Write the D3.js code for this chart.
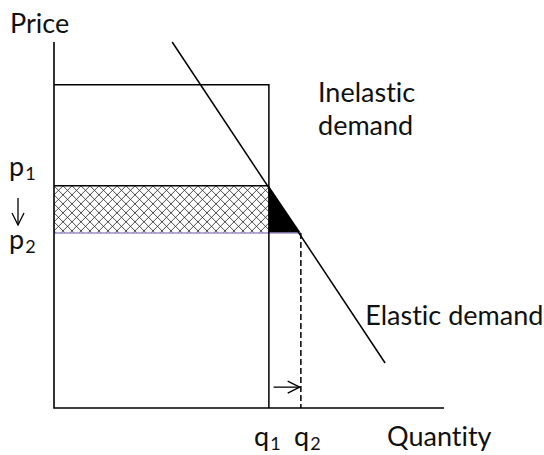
<!DOCTYPE html>
<html>
<head>
<meta charset="utf-8">
<script src="https://cdn.jsdelivr.net/npm/d3@7"></script>
<style>
  body { margin: 0; background: #fff; }
  text { font-family: Lato, "Open Sans", sans-serif; fill: #111; font-variant-ligatures: none; font-feature-settings: "liga" 0, "clig" 0; }
</style>
</head>
<body>
<svg id="chart" width="544" height="455"></svg>
<script>
// ---- data (quantity / price units) ----
const priceLevels = { p1: 6.07, p2: 4.78, top: 8.83 };
const quantityLevels = { q1: 5.51, q2: 6.33 };
const elasticDemand = [ { q: 3.03, p: 10 }, { q: 8.49, p: 1.23 } ];
const shiftArrowP = 0.57;
const axisLabels = { x: "Quantity", y: "Price" };
const curveLabels = [
  { lines: ["Inelastic", "demand"], q: 6.77, p: 8.37 },
  { lines: ["Elastic demand"], q: 7.98, p: 2.27 }
];

// ---- scales ----
const x = d3.scaleLinear().domain([0, 10]).range([54, 444]);
const y = d3.scaleLinear().domain([0, 10]).range([408, 42]);

const svg = d3.select("#chart");
const line = d3.line().x(d => x(d.q)).y(d => y(d.p));

// hatch pattern
const defs = svg.append("defs");
const pat = defs.append("pattern")
  .attr("id", "xhatch")
  .attr("patternUnits", "userSpaceOnUse")
  .attr("width", 9).attr("height", 9)
  .attr("x", x(0)).attr("y", y(priceLevels.p1));
pat.append("rect").attr("width", 9).attr("height", 9).attr("fill", "#fff");
pat.append("path")
  .attr("d", "M0,0L9,9M0,9L9,0M-1,1L1,-1M8,10L10,8M-1,8L1,10M8,-1L10,1")
  .attr("stroke", "#000").attr("stroke-width", 0.7);

defs.append("marker")
  .attr("id", "arrowOpen")
  .attr("viewBox", "0 0 14 14")
  .attr("refX", 13).attr("refY", 7)
  .attr("markerWidth", 14).attr("markerHeight", 14)
  .attr("markerUnits", "userSpaceOnUse")
  .attr("orient", "auto")
  .append("path")
  .attr("d", "M1,1L13,7L1,13")
  .attr("fill", "none").attr("stroke", "#000").attr("stroke-width", 1.3);

// revenue rectangle (hatched)
svg.append("rect")
  .attr("x", x(0)).attr("y", y(priceLevels.p1))
  .attr("width", x(quantityLevels.q1) - x(0))
  .attr("height", y(priceLevels.p2) - y(priceLevels.p1))
  .attr("fill", "url(#xhatch)");

// black triangle
svg.append("path")
  .attr("d", line([
    { q: quantityLevels.q1, p: priceLevels.p1 },
    { q: quantityLevels.q1, p: priceLevels.p2 },
    { q: quantityLevels.q2, p: priceLevels.p2 }
  ]) + "Z")
  .attr("fill", "#000");

// p1 line
svg.append("path")
  .attr("d", line([{ q: 0, p: priceLevels.p1 }, { q: quantityLevels.q1, p: priceLevels.p1 }]))
  .attr("stroke", "#000").attr("stroke-width", 1.5);

// p2 line (purple)
svg.append("path")
  .attr("d", line([{ q: 0, p: priceLevels.p2 }, { q: quantityLevels.q2, p: priceLevels.p2 }]))
  .attr("stroke", "#9c8fc9").attr("stroke-width", 1.5);

// inelastic demand (box top + vertical)
svg.append("path")
  .attr("d", line([
    { q: 0, p: priceLevels.top },
    { q: quantityLevels.q1, p: priceLevels.top },
    { q: quantityLevels.q1, p: 0 }
  ]))
  .attr("fill", "none").attr("stroke", "#000").attr("stroke-width", 1.5);

// elastic demand
svg.append("path")
  .attr("d", line(elasticDemand))
  .attr("fill", "none").attr("stroke", "#000").attr("stroke-width", 1.5);

// dashed q2 line
svg.append("path")
  .attr("d", line([{ q: quantityLevels.q2, p: priceLevels.p2 }, { q: quantityLevels.q2, p: 0 }]))
  .attr("stroke", "#000").attr("stroke-width", 1.5)
  .attr("stroke-dasharray", "6,3");

// shift arrow
svg.append("path")
  .attr("d", line([{ q: quantityLevels.q1 + 0.12, p: shiftArrowP }, { q: quantityLevels.q2 - 0.03, p: shiftArrowP }]))
  .attr("stroke", "#000").attr("stroke-width", 1.3)
  .attr("marker-end", "url(#arrowOpen)");

// axes
svg.append("path")
  .attr("d", line([{ q: 0, p: 10 }, { q: 0, p: 0 }, { q: 10, p: 0 }]))
  .attr("fill", "none").attr("stroke", "#000").attr("stroke-width", 1.6);

// labels
const fs = 27;
svg.append("text").attr("x", 10).attr("y", 33).attr("font-size", fs).text(axisLabels.y);
svg.append("text").attr("x", 387).attr("y", 446).attr("font-size", fs).text(axisLabels.x);

curveLabels.forEach(c => {
  const t = svg.append("text").attr("x", x(c.q)).attr("y", y(c.p)).attr("font-size", fs);
  c.lines.forEach((l, i) => t.append("tspan").attr("x", x(c.q)).attr("dy", i ? 33 : 0).text(l));
});

function subLabel(px, py, base, sub) {
  const t = svg.append("text").attr("x", px).attr("y", py).attr("font-size", fs);
  t.append("tspan").text(base);
  t.append("tspan").attr("font-size", 18).attr("dy", 4).attr("dx", 1).text(sub);
}
subLabel(9, 176, "p", "1");
subLabel(9, 249, "p", "2");
subLabel(254, 446, "q", "1");
subLabel(294, 446, "q", "2");

// down arrow between p1 and p2
svg.append("path")
  .attr("d", "M18,198L18,225")
  .attr("stroke", "#000").attr("stroke-width", 1.3)
  .attr("marker-end", "url(#arrowOpen)");
</script>
</body>
</html>
